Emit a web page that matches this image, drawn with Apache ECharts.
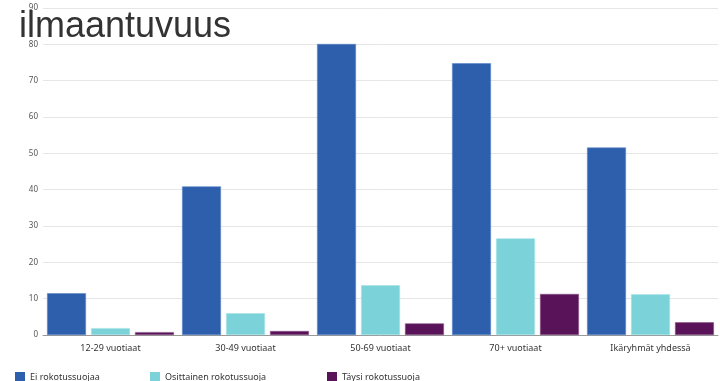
<!DOCTYPE html>
<html>
<head>
<meta charset="utf-8">
<script src="https://cdn.jsdelivr.net/npm/echarts@6/dist/echarts.min.js"></script>
<style>
  html, body { margin: 0; padding: 0; background: #fff; }
  #chart { width: 720px; height: 381px; }
</style>
</head>
<body>
<div id="chart"></div>
<script>
  // ikäryhmät
  var categories = ['12-29 vuotiaat', '30-49 vuotiaat', '50-69 vuotiaat', '70+ vuotiaat', 'Ikäryhmät yhdessä'];
  var seriesNames = ['Ei rokotussuojaa', 'Osittainen rokotussuoja', 'Täysi rokotussuoja'];
  var eiRokotussuojaa = [11.5, 40.9, 80.1, 74.8, 51.6];
  var osittainen = [1.9, 6.0, 13.7, 26.6, 11.2];
  var taysi = [0.8, 1.1, 3.2, 11.3, 3.5];
  var colors = ['#2e5fac', '#7bd2d9', '#591358'];

  var myChart = echarts.init(document.getElementById('chart'));
  var font = 'Noto Sans';

  function legend(i, left) {
    return {
      data: [seriesNames[i]],
      left: left,
      top: 372,
      padding: 0,
      itemWidth: 10,
      itemHeight: 10,
      icon: 'rect',
      itemStyle: { borderWidth: 0 },
      textStyle: { fontFamily: font, fontSize: 9, color: '#333' }
    };
  }

  myChart.setOption({
    animation: false,
    color: colors,
    title: {
      text: 'ilmaantuvuus',
      left: 14,
      top: 4,
      textStyle: { fontFamily: 'Liberation Sans', fontSize: 36, fontWeight: 'normal', color: '#333' }
    },
    legend: [legend(0, 15), legend(1, 150), legend(2, 327)],
    grid: { left: 43, right: 2, top: 8, bottom: 46, containLabel: false },
    xAxis: {
      type: 'category',
      data: categories,
      axisTick: { alignWithLabel: true, length: 4, lineStyle: { color: '#ccc' } },
      axisLine: { lineStyle: { color: '#999' } },
      axisLabel: { fontFamily: font, fontSize: 9, color: '#333', margin: 9 }
    },
    yAxis: {
      type: 'value',
      min: 0,
      max: 90,
      interval: 10,
      axisLabel: { fontFamily: font, fontSize: 8, color: '#555', margin: 5 },
      splitLine: { lineStyle: { color: '#e6e6e6' } },
      axisLine: { show: false },
      axisTick: { show: false }
    },
    series: [
      { name: seriesNames[0], type: 'bar', data: eiRokotussuojaa, barGap: '13%', barCategoryGap: '6%',
        itemStyle: { borderColor: '#5a86c6', borderWidth: 0.6 } },
      { name: seriesNames[1], type: 'bar', data: osittainen,
        itemStyle: { borderColor: '#a6e2e6', borderWidth: 0.6 } },
      { name: seriesNames[2], type: 'bar', data: taysi,
        itemStyle: { borderColor: '#8a5588', borderWidth: 0.6 } }
    ]
  });
</script>
</body>
</html>
